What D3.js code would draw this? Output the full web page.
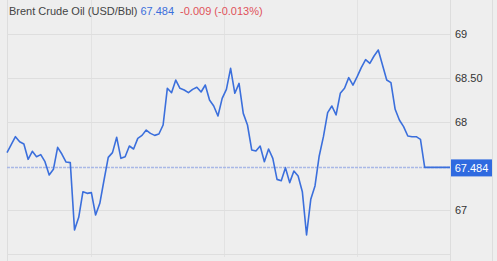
<!DOCTYPE html>
<html>
<head>
<meta charset="utf-8">
<script src="https://cdn.jsdelivr.net/npm/d3@7"></script>
<style>
  body { margin: 0; background: #eeeeee; overflow: hidden; }
  svg { display: block; font-family: "Liberation Sans", Arial, sans-serif; }
</style>
</head>
<body>
<div class="container"></div>
<script>
// price samples, one per step
var prices = [
  67.652, 67.742, 67.833, 67.776, 67.750, 67.576, 67.667, 67.606, 67.629, 67.549,
  67.398, 67.462, 67.712, 67.636, 67.545, 67.538, 66.773, 66.917, 67.208, 67.189,
  67.197, 66.943, 67.076, 67.341, 67.598, 67.652, 67.826, 67.587, 67.606, 67.727,
  67.693, 67.814, 67.848, 67.909, 67.871, 67.848, 67.864, 67.966, 68.383, 68.333,
  68.477, 68.383, 68.364, 68.333, 68.371, 68.394, 68.341, 68.420, 68.250, 68.182,
  68.068, 68.269, 68.371, 68.610, 68.326, 68.439, 68.098, 67.966, 67.682, 67.670,
  67.727, 67.549, 67.693, 67.587, 67.348, 67.333, 67.481, 67.311, 67.443, 67.386,
  67.208, 66.716, 67.121, 67.273, 67.614, 67.833, 68.106, 68.182, 68.080, 68.326,
  68.383, 68.504, 68.420, 68.515, 68.621, 68.708, 68.667, 68.750, 68.818, 68.648,
  68.477, 68.447, 68.144, 68.023, 67.947, 67.841, 67.833, 67.833, 67.803, 67.484,
  67.484, 67.484, 67.484, 67.484, 67.484, 67.484
];
var lastPrice = 67.484;
var change = "-0.009 (-0.013%)";
var title = "Brent Crude Oil (USD/Bbl)";
var yTicks = [66.5, 67, 68, 68.5, 69];
var xGrid = [19.9, 51.4, 83];

var W = 497, H = 261;
var svg = d3.select(".container").append("svg")
  .attr("width", W).attr("height", H);

var x = d3.scaleLinear().domain([0, prices.length - 1]).range([7, 450]);
var y = d3.scaleLinear().domain([67, 69]).range([210, 34]);

svg.append("rect").attr("width", W).attr("height", H).attr("fill", "#eeeeee");

// vertical grid
svg.selectAll(".vg").data(xGrid).enter().append("line")
  .attr("x1", d => Math.round(x(d)) + 0.5).attr("x2", d => Math.round(x(d)) + 0.5)
  .attr("y1", 0).attr("y2", 257)
  .attr("stroke", "#e2e2e2").attr("stroke-width", 1);

// frame lines
svg.append("line").attr("x1", 7.5).attr("x2", 7.5).attr("y1", 0).attr("y2", H)
  .attr("stroke", "#dddddd");
svg.append("line").attr("x1", 450.5).attr("x2", 450.5).attr("y1", 0).attr("y2", H)
  .attr("stroke", "#dddddd");
svg.append("line").attr("x1", 492.5).attr("x2", 492.5).attr("y1", 0).attr("y2", H)
  .attr("stroke", "#dddddd");

// horizontal grid
svg.selectAll(".hg").data(yTicks).enter().append("line")
  .attr("x1", 7).attr("x2", 450)
  .attr("y1", d => Math.round(y(d)) + 0.5).attr("y2", d => Math.round(y(d)) + 0.5)
  .attr("stroke", "#dedede");

// y axis labels
var fmt = d => Number.isInteger(d) ? d3.format("d")(d) : d3.format(".2f")(d);
svg.selectAll(".yl").data(yTicks.filter(d => d >= 67)).enter().append("text")
  .attr("x", 455).attr("y", d => y(d)).attr("dy", "0.35em")
  .attr("font-size", 11).attr("fill", "#333")
  .text(fmt);

// last price dashed line
svg.append("line")
  .attr("x1", 7).attr("x2", 450)
  .attr("y1", y(lastPrice)).attr("y2", y(lastPrice))
  .attr("stroke", "#a9b8e6").attr("stroke-width", 1.5)
  .attr("stroke-dasharray", "3,1");

// price line
svg.append("path")
  .datum(prices)
  .attr("fill", "none")
  .attr("stroke", "#3b6fdc")
  .attr("stroke-width", 1.6)
  .attr("stroke-linejoin", "round")
  .attr("d", d3.line().x((d, i) => x(i)).y(d => y(d)));

// price tag
svg.append("rect")
  .attr("x", 451).attr("y", y(lastPrice) - 8)
  .attr("width", 41).attr("height", 17)
  .attr("fill", "#2f6ae0");
svg.append("text")
  .attr("x", 471.5).attr("y", y(lastPrice)).attr("dy", "0.38em")
  .attr("text-anchor", "middle")
  .attr("font-size", 11).attr("fill", "#ffffff")
  .text(lastPrice);

// title
var t = svg.append("text").attr("x", 9).attr("y", 15).attr("font-size", 11);
t.append("tspan").attr("fill", "#444").text(title + " ");
t.append("tspan").attr("fill", "#3b6fdc").text(lastPrice);
t.append("tspan").attr("fill", "#e0525a").attr("dx", 6).text(change);
</script>
</body>
</html>
